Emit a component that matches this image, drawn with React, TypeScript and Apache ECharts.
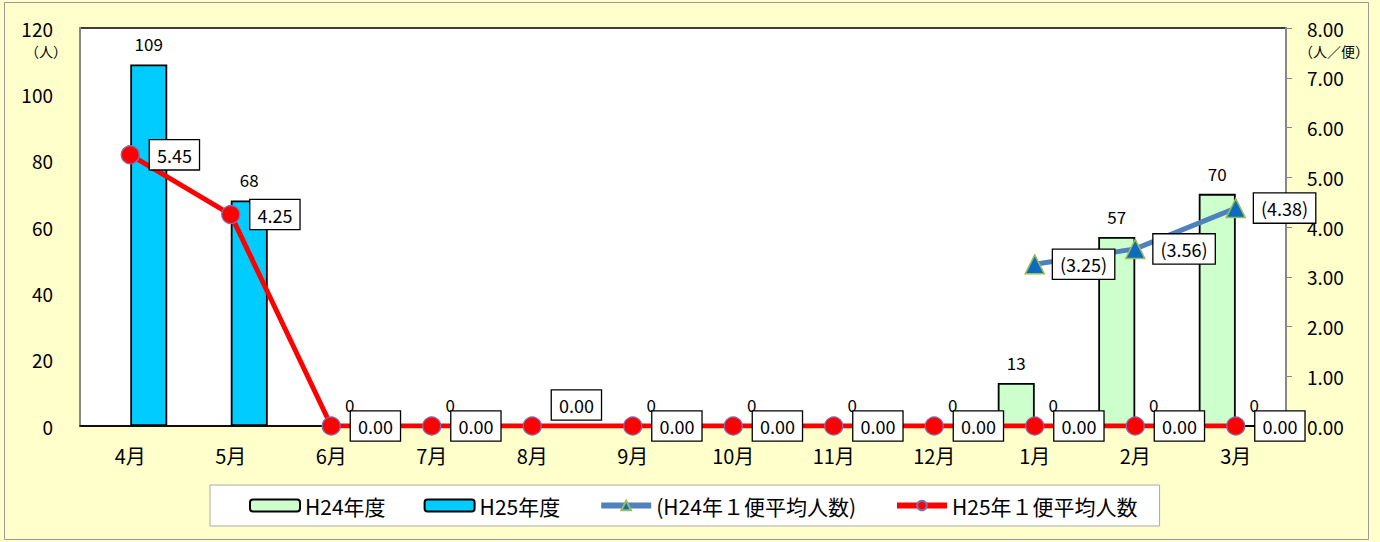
import React, { useEffect, useRef } from "react";
import * as echarts from "echarts";

const categories = ["4月", "5月", "6月", "7月", "8月", "9月", "10月", "11月", "12月", "1月", "2月", "3月"];
const h24Counts = [null, null, null, null, null, null, null, null, null, 13, 57, 70];
const h25Counts = [109, 68, 0, 0, 0, 0, 0, 0, 0, 0, 0, 0];
const h24Avg = [null, null, null, null, null, null, null, null, null, 3.25, 3.56, 4.38];
const h25Avg = [5.45, 4.25, 0, 0, 0, 0, 0, 0, 0, 0, 0, 0];
const seriesNames = ["H24年度", "H25年度", "(H24年１便平均人数)", "H25年１便平均人数"];

const FONT = "'Noto Sans CJK JP', 'Noto Sans', sans-serif";

export default function App() {
  const ref = useRef<HTMLDivElement>(null);
  useEffect(() => {
    document.body.style.margin = "0";
    const chart = echarts.init(ref.current!, null, { renderer: "svg" });
    const boxLabel = {
      show: true,
      position: "right" as const,
      distance: 10,
      color: "#000",
      fontSize: 18,
      fontFamily: FONT,
      backgroundColor: "#fff",
      borderColor: "#000",
      borderWidth: 1.3,
      padding: [6, 7, 5, 7],
    };
    chart.setOption({
      animation: false,
      backgroundColor: "#FFFFCC",
      textStyle: { fontFamily: FONT },
      grid: {
        left: 80,
        right: 94,
        top: 28,
        bottom: 116,
        show: true,
        backgroundColor: "#fff",
        borderColor: "#000",
        borderWidth: 1.5,
      },
      legend: {
        left: 210,
        top: 485,
        backgroundColor: "#fff",
        borderColor: "#aaa",
        borderWidth: 1,
        padding: [10, 22, 10, 39],
        itemGap: 38,
        itemWidth: 50,
        itemHeight: 12,
        textStyle: { fontSize: 21, color: "#000", fontFamily: FONT },
        data: [
          { name: seriesNames[0] },
          { name: seriesNames[1] },
          { name: seriesNames[2], lineStyle: { width: 6 } },
          { name: seriesNames[3], lineStyle: { width: 6 } },
        ],
      },
      graphic: [
        {
          type: "rect",
          shape: { x: 4.5, y: 2.5, width: 1364, height: 537 },
          style: { fill: "none", stroke: "#999", lineWidth: 1 },
          silent: true,
        },
        {
          type: "text",
          left: 25,
          top: 44,
          style: { text: "（人）", fontSize: 14, fill: "#000", fontFamily: FONT },
        },
        {
          type: "text",
          left: 1299,
          top: 44,
          style: { text: "（人／便）", fontSize: 14, fill: "#000", fontFamily: FONT },
        },
      ],
      xAxis: {
        type: "category",
        data: categories,
        boundaryGap: true,
        axisLine: { lineStyle: { color: "#000", width: 1.5 } },
        axisTick: { show: false },
        axisLabel: { color: "#000", fontSize: 20, margin: 19, fontFamily: FONT },
        z: 3,
      },
      yAxis: [
        {
          type: "value",
          min: 0,
          max: 120,
          interval: 20,
          axisLine: { show: true, lineStyle: { color: "#888", width: 2 } },
          axisTick: { show: false },
          splitLine: { show: false },
          axisLabel: { color: "#000", fontSize: 19, margin: 27, fontFamily: FONT },
        },
        {
          type: "value",
          min: 0,
          max: 8,
          interval: 1,
          position: "right",
          axisLine: { show: true, lineStyle: { color: "#888", width: 2 } },
          axisTick: { show: true, length: 6, lineStyle: { color: "#888" } },
          splitLine: { show: false },
          axisLabel: {
            color: "#000",
            fontSize: 19,
            margin: 21,
            fontFamily: FONT,
            formatter: (v: number) => v.toFixed(2),
          },
        },
      ],
      series: [
        {
          name: seriesNames[0],
          type: "bar",
          yAxisIndex: 0,
          data: h24Counts,
          barWidth: 37,
          barGap: "0%",
          itemStyle: { color: "#CCFFCC", borderColor: "#000", borderWidth: 1.8 },
          label: { show: true, position: "top", distance: 12, color: "#000", fontSize: 17, fontFamily: FONT },
          z: 2,
        },
        {
          name: seriesNames[1],
          type: "bar",
          yAxisIndex: 0,
          data: h25Counts.map((v, i) => (i === 4 ? { value: v, label: { show: false } } : v)),
          barWidth: 37,
          barGap: "0%",
          itemStyle: { color: "#00CCFF", borderColor: "#000", borderWidth: 1.8 },
          label: { show: true, position: "top", distance: 12, color: "#000", fontSize: 17, fontFamily: FONT },
          z: 2,
        },
        {
          name: seriesNames[2],
          type: "line",
          yAxisIndex: 1,
          data: h24Avg,
          symbol: "triangle",
          symbolSize: 19,
          lineStyle: { color: "#4F81BD", width: 5 },
          itemStyle: { color: "#0A6BC0", borderColor: "#9BBB59", borderWidth: 1.5 },
          label: { ...boxLabel, distance: 8, formatter: (p: any) => `(${Number(p.value).toFixed(2)})` },
          z: 5,
        },
        {
          name: seriesNames[3],
          type: "line",
          yAxisIndex: 1,
          data: h25Avg.map((v, i) =>
            i === 4 ? { value: v, label: { offset: [0, -21] } } : v
          ),
          symbol: "circle",
          symbolSize: 18,
          lineStyle: { color: "#FF0000", width: 5 },
          itemStyle: { color: "#FF0000", borderColor: "#7F6FAF", borderWidth: 1.3 },
          label: { ...boxLabel, formatter: (p: any) => Number(p.value).toFixed(2) },
          z: 6,
        },
      ],
    });
    return () => chart.dispose();
  }, []);
  return <div ref={ref} style={{ width: 1380, height: 542 }} />;
}
